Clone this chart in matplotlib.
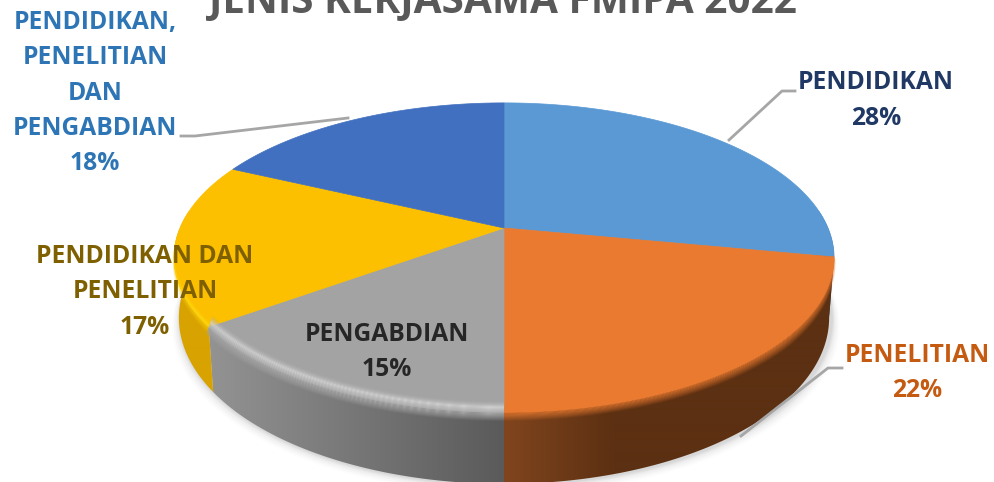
import numpy as np
import matplotlib
matplotlib.use("Agg")
import matplotlib.pyplot as plt
from matplotlib.colors import to_rgb
from matplotlib.patches import Polygon

labels = ["PENDIDIKAN", "PENELITIAN", "PENGABDIAN", "PENDIDIKAN DAN\nPENELITIAN", "PENDIDIKAN,\nPENELITIAN\nDAN\nPENGABDIAN"]
values = [28, 22, 15, 17, 18]
top_colors = ["#5a99d4", "#e97a30", "#a3a3a3", "#fcc000", "#4270c0"]
side_light = ["#3d74a8", "#80451e", "#939393", "#d8a300", "#2f5597"]
side_dark = ["#1f4e79", "#5c3012", "#5a5a5a", "#d8a300", "#2f5597"]
text_colors = ["#203864", "#c55a11", "#262626", "#7f6000", "#2e75b6"]
title = "JENIS KERJASAMA FMIPA 2022"

FONT = "Open Sans"
CX, CY = 504.0, 228.0
A, B, K = 324.0, 149.0, 0.191
D = 58.0
SHRINK = 0.985


def project(theta):
    x, y = np.sin(theta), np.cos(theta)
    w = 1 + K * y
    return CX + A * x / w, CY - B * y / w, w


def blend(c1, c2, t):
    c1, c2 = np.array(to_rgb(c1)), np.array(to_rgb(c2))
    return c1 + (c2 - c1) * t


fig = plt.figure(figsize=(9.94, 4.82), dpi=100)
ax = fig.add_axes([0, 0, 1, 1])
ax.axis("off")

edges = np.cumsum([0] + values) / sum(values) * 2 * np.pi
slices = list(zip(edges[:-1], edges[1:]))


def bottom_edge(th):
    px, py, pw = project(th)
    return CX + (px - CX) * SHRINK, py + D / pw


# soft drop shadow below the front wall
th_all = np.linspace(np.pi * 0.42, np.pi * 1.58, 200)
for grow, alpha in zip([16, 13, 10, 7, 5, 3], [.012, .018, .025, .03, .035, .04]):
    bx, by = bottom_edge(th_all)
    pts = np.c_[bx + grow * .55 * np.sin(th_all) + 2, by + grow * .6]
    ax.add_patch(Polygon(np.r_[pts, [[CX, CY]]], fc="k", ec="none", alpha=alpha, zorder=1))

# front walls, shaded by horizontal position
xs = np.arange(0, 994)
for (a0, a1), light, dark in zip(slices, side_light, side_dark):
    th = np.linspace(a0, a1, 300)
    th = th[np.cos(th) < 0.12]
    if len(th) < 2:
        continue
    px, py, _ = project(th)
    bx, by = bottom_edge(th)
    if px.mean() > CX:
        t = np.clip((xs - CX) / 110, 0, 1)
    else:
        t = np.clip((xs - px.min()) / max(np.ptp(px), 1), 0, 1)
    grad = np.array([blend(light, dark, v) for v in t])[None, :, :]
    im = ax.imshow(grad, extent=(0, 994, 482, 0), aspect="auto", zorder=2, interpolation="bilinear")
    clip = Polygon(np.r_[np.c_[px, py], np.c_[bx, by][::-1]], transform=ax.transData, fc="none", ec="none")
    ax.add_patch(clip)
    im.set_clip_path(clip)

# top faces
for (a0, a1), col in zip(slices, top_colors):
    th = np.linspace(a0, a1, 200)
    px, py, _ = project(th)
    ax.add_patch(Polygon(np.r_[[[CX, CY]], np.c_[px, py]], fc=col, ec=col, lw=.5, zorder=3))

# rounded rim on the front of the top face: offset from rim -> colour, alpha
rim_stops = {
    1: ([-9, 0, 9], ["#e97a30", "#e97a30", "#e97a30"], [0, 1, 0]),
    2: ([-12, -5, 2, 9], ["#a3a3a3", "#d2d2d2", "#a3a3a3", "#a3a3a3"], [0, 1, 1, 0]),
    3: ([-7, -1, 7], ["#fcc000", "#ffdc10", "#fcc000"], [0, 1, 0]),
}
for idx, (offs, cols, alphas) in rim_stops.items():
    a0, a1 = slices[idx]
    th = np.linspace(a0, a1, 160)
    px, py, pw = project(th)
    nx, ny = np.sin(th), -np.cos(th)
    fade = np.clip(ny * 1.3 + .15, 0.0, 1)
    grid = np.linspace(offs[0], offs[-1], 22)
    for g0, g1 in zip(grid[:-1], grid[1:]):
        gm = (g0 + g1) / 2
        seg = min(np.searchsorted(offs, gm, side="right") - 1, len(cols) - 2)
        f = (gm - offs[seg]) / (offs[seg + 1] - offs[seg])
        c = blend(cols[seg], cols[seg + 1], f)
        al = alphas[seg] + (alphas[seg + 1] - alphas[seg]) * f
        p0 = np.c_[px + g0 * .45 * nx * fade, py + g0 * fade]
        p1 = np.c_[px + g1 * .45 * nx * fade, py + g1 * fade]
        ax.add_patch(Polygon(np.r_[p0, p1[::-1]], fc=(*c, al), ec="none", zorder=4))

# leader lines
leader_x = [[729, 782, 795], [741, 828, 842], [181, 195, 348]]
leader_y = [[140, 91, 91], [436, 368, 368], [136, 136, 118]]
for lx, ly in zip(leader_x, leader_y):
    ax.plot(lx, ly, color="#a6a6a6", lw=2, zorder=5)

# data labels
label_x = [876, 917, 387, 145, 95]
label_y = [100.5, 373, 352, 292, 93]
total = sum(values)
for name, val, col, lx, ly in zip(labels, values, text_colors, label_x, label_y):
    ax.text(lx, ly, f"{name}\n{round(val / total * 100)}%", ha="center", va="center", color=col,
            fontsize=17.7, fontweight="bold", family=FONT, linespacing=1.55, zorder=6)

ax.text(503, 13, title, ha="center", va="baseline", color="#595959", fontsize=29.2,
        fontweight="bold", family=FONT, zorder=6)

ax.set_xlim(0, 994)
ax.set_ylim(482, 0)
fig.savefig("out.png", dpi=100, facecolor="white")
